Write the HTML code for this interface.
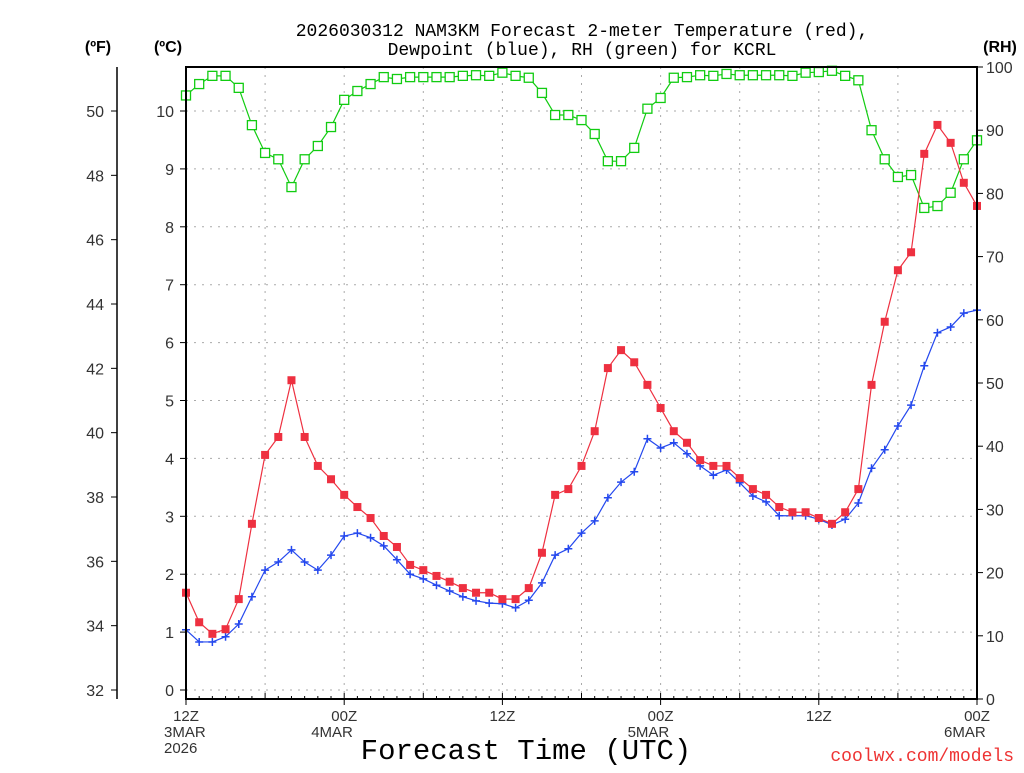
<!DOCTYPE html>
<html><head><meta charset="utf-8"><style>
body{margin:0;background:#fff;width:1024px;height:768px;overflow:hidden;font-family:"Liberation Sans",sans-serif}
.m{font-family:"Liberation Mono",monospace}
</style></head><body>
<svg id="c" width="1024" height="768" xmlns="http://www.w3.org/2000/svg">
<text class="m" x="582" y="36" text-anchor="middle" font-size="18">2026030312 NAM3KM Forecast 2-meter Temperature (red),</text>
<text class="m" x="582" y="55" text-anchor="middle" font-size="18">Dewpoint (blue), RH (green) for KCRL</text>
<text x="98" y="52" text-anchor="middle" font-size="16" font-weight="bold">(ºF)</text>
<text x="168" y="52" text-anchor="middle" font-size="16" font-weight="bold">(ºC)</text>
<text x="1000" y="52" text-anchor="middle" font-size="16" font-weight="bold">(RH)</text>
<text class="m" x="526" y="759" text-anchor="middle" font-size="29">Forecast Time (UTC)</text>
<text class="m" x="1014" y="761" text-anchor="end" font-size="18" fill="#e33">coolwx.com/models</text>
<g id="g"></g>
</svg>
<script>
const tempC=[1.68,1.17,0.97,1.05,1.57,2.87,4.06,4.37,5.35,4.37,3.87,3.64,3.37,3.16,2.97,2.66,2.47,2.16,2.07,1.97,1.87,1.76,1.68,1.68,1.57,1.57,1.76,2.37,3.37,3.47,3.87,4.47,5.56,5.87,5.66,5.27,4.87,4.47,4.27,3.97,3.87,3.87,3.66,3.47,3.37,3.16,3.07,3.07,2.97,2.87,3.07,3.47,5.27,6.36,7.25,7.56,9.26,9.76,9.45,8.76,8.36];
const dewC=[1.04,0.83,0.83,0.92,1.14,1.61,2.07,2.21,2.42,2.21,2.07,2.33,2.66,2.71,2.63,2.49,2.25,2.00,1.92,1.81,1.71,1.61,1.54,1.50,1.49,1.42,1.55,1.85,2.33,2.44,2.71,2.92,3.32,3.59,3.77,4.34,4.18,4.27,4.08,3.87,3.71,3.80,3.58,3.35,3.25,3.01,3.01,3.01,2.95,2.85,2.95,3.23,3.83,4.15,4.56,4.92,5.60,6.17,6.27,6.51,6.56];
const rh=[95.5,97.3,98.6,98.6,96.7,90.8,86.4,85.4,81.0,85.4,87.5,90.5,94.8,96.2,97.3,98.4,98.1,98.4,98.4,98.4,98.4,98.6,98.7,98.6,99.1,98.6,98.3,95.9,92.4,92.4,91.6,89.4,85.1,85.1,87.2,93.4,95.1,98.3,98.4,98.7,98.6,98.9,98.7,98.7,98.7,98.7,98.6,99.1,99.2,99.4,98.6,97.9,90.0,85.4,82.6,82.9,77.7,78.0,80.1,85.4,88.4];
const cTicks=[0,1,2,3,4,5,6,7,8,9,10];
const fTicks=[32,34,36,38,40,42,44,46,48,50];
const rhTicks=[0,10,20,30,40,50,60,70,80,90,100];
const xLabels=[["12Z","3MAR","2026"],["00Z","4MAR"],["12Z"],["00Z","5MAR"],["12Z"],["00Z","6MAR"]];
const L=186,R=977,T=67,B=699,H=60;
const xs=h=>L+(R-L)*h/H, yc=c=>690-57.9*c, yf=f=>yc((f-32)/1.8), yr=r=>B-(B-T)*r/100;
const g=document.getElementById('g'),NS="http://www.w3.org/2000/svg";
function mk(t,a,p){const e=document.createElementNS(NS,t);for(const k in a)e.setAttribute(k,a[k]);(p||g).appendChild(e);return e;}
for(const c of cTicks){const l=mk('line',{x1:L,x2:R,y1:yc(c),y2:yc(c),stroke:'#aaa','stroke-dasharray':'2,6'});


mk('line',{x1:L-6,x2:L,y1:yc(c),y2:yc(c),stroke:'#000'});
const t=mk('text',{x:L-12,y:yc(c)+6,'text-anchor':'end','font-size':16,fill:'#333'});t.textContent=c;

}
for(let h=6;h<H;h+=6){const l=mk('line',{x1:xs(h),x2:xs(h),y1:T,y2:B,stroke:'#aaa','stroke-dasharray':'2,6'});

}
mk('line',{x1:117,x2:117,y1:T,y2:699,stroke:'#000','stroke-width':1.5});
for(const f of fTicks){mk('line',{x1:111,x2:117,y1:yf(f),y2:yf(f),stroke:'#000'});
const t=mk('text',{x:104,y:yf(f)+6,'text-anchor':'end','font-size':16,fill:'#333'});t.textContent=f;

}
for(const r of rhTicks){mk('line',{x1:R,x2:R+6,y1:yr(r),y2:yr(r),stroke:'#000'});
const t=mk('text',{x:986,y:yr(r)+6,'font-size':16,fill:'#333'});t.textContent=r;

}
xLabels.forEach((ls,i)=>{const x=xs(i*12);mk('line',{x1:x,x2:x,y1:B,y2:B+6,stroke:'#000'});
ls.forEach((s,j)=>{const t=mk('text',{x:j==0?x:(i==0?x-22:x-33),y:721+j*16,'text-anchor':j==0?'middle':'start','font-size':15,fill:'#333'});t.textContent=s;

});});
for(let h=0;h<=H;h++){mk('line',{x1:xs(h),x2:xs(h),y1:B,y2:B-(h%6?3:6),stroke:'#000'});}
function series(vals,yf2,col,name,mark){const pts=vals.map((v,i)=>xs(i)+','+yf2(v)).join(' ');
const p=mk('polyline',{points:pts,fill:'none',stroke:col,'stroke-width':1.2});


vals.forEach((v,i)=>{const x=xs(i),y=yf2(v);let m;
if(mark=='fill')m=mk('rect',{x:x-4,y:y-4,width:8,height:8,fill:col});
else if(mark=='open')m=mk('rect',{x:x-4.5,y:y-4.5,width:9,height:9,fill:'#fff',stroke:col,'stroke-width':1.3});
else{m=mk('path',{d:`M${x-4} ${y}h8M${x} ${y-4}v8`,stroke:col,'stroke-width':1.5});}

});}
series(rh,yr,'#1c1','rh','open');
series(dewC,yc,'#2448ee','dewpoint','plus');
series(tempC,yc,'#ee3040','temperature','fill');
const f=mk('rect',{x:L,y:T,width:R-L,height:B-T,fill:'none',stroke:'#000','stroke-width':2});


</script>
</body></html>
